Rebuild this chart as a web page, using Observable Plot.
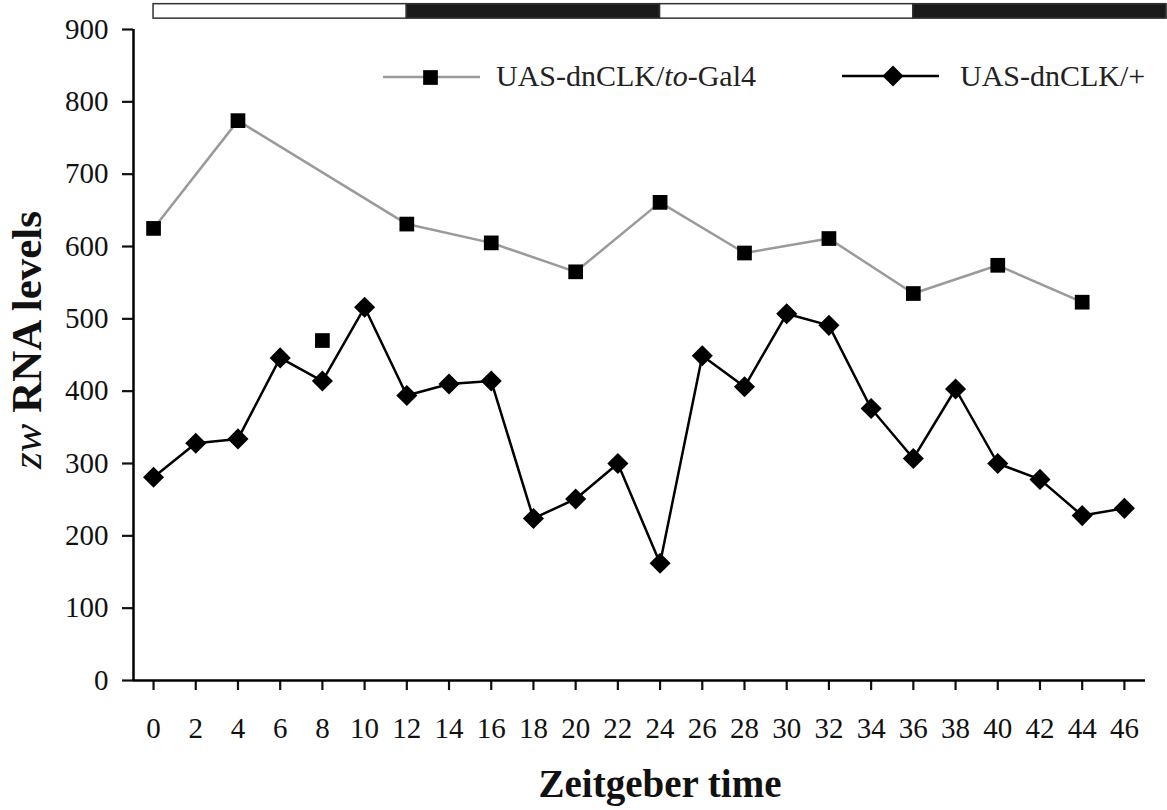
<!DOCTYPE html>
<html>
<head>
<meta charset="utf-8">
<script src="https://cdn.jsdelivr.net/npm/d3@7"></script>
<script src="https://cdn.jsdelivr.net/npm/@observablehq/plot@0.6"></script>
<style>
  html, body { margin: 0; padding: 0; background: #fff; }
</style>
</head>
<body>
<div id="chart"></div>
<script>
// ---- data ----
const toGal4Times  = [0, 4, 12, 16, 20, 24, 28, 32, 36, 40, 44];
const toGal4Values = [625, 774, 631, 605, 565, 661, 591, 611, 535, 574, 523];
const toGal4ExtraTime  = [8];
const toGal4ExtraValue = [470];

const plusTimes  = [0, 2, 4, 6, 8, 10, 12, 14, 16, 18, 20, 22, 24, 26, 28, 30, 32, 34, 36, 38, 40, 42, 44, 46];
const plusValues = [281, 328, 334, 446, 414, 516, 394, 410, 414, 224, 251, 300, 162, 449, 406, 507, 491, 376, 307, 403, 300, 278, 228, 238];

const phaseStart = [0, 12, 24, 36];
const phaseEnd   = [12, 24, 36, 48];
const phaseName  = ["light", "dark", "light", "dark"];

const xTicks = d3.range(0, 47, 2);
const yTicks = d3.range(0, 901, 100);

const seriesNames = ["UAS-dnCLK/to-Gal4", "UAS-dnCLK/+"];

// ---- tables ----
const toGal4 = toGal4Times.map((t, i) => ({time: t, value: toGal4Values[i]}));
const toGal4Extra = toGal4ExtraTime.map((t, i) => ({time: t, value: toGal4ExtraValue[i]}));
const plus = plusTimes.map((t, i) => ({time: t, value: plusValues[i]}));
const phases = phaseStart.map((s, i) => ({start: s, end: phaseEnd[i], phase: phaseName[i]}));

const serif = "'Liberation Serif', 'Times New Roman', Times, serif";
const GRAY = "#9a9a9a";

const plot = Plot.plot({
  width: 1167,
  height: 810,
  marginLeft: 133,
  marginRight: 22,
  marginTop: 29,
  marginBottom: 130,
  style: {fontFamily: serif, color: "#111", background: "#fff"},
  x: {domain: [-0.95, 47], axis: null},
  y: {domain: [0, 900], axis: null},
  marks: [
    // light/dark bar
    Plot.rect(phases, {
      x1: "start", x2: "end", y1: 915, y2: 935,
      fill: d => d.phase === "light" ? "#ffffff" : "#1a1a1a",
      stroke: "#333", strokeWidth: 1.5, clip: false
    }),
    Plot.axisY({ticks: yTicks, tickSize: 11, tickPadding: 14, fontSize: 29, strokeWidth: 2.2, label: null, tickFormat: d => String(d)}),
    Plot.axisX({ticks: xTicks, tickSize: 10, tickPadding: 27, fontSize: 29, strokeWidth: 2.2, label: null, tickFormat: d => String(d)}),
    Plot.ruleX([-0.95], {y1: 0, y2: 900, stroke: "#000", strokeWidth: 2.5}),
    Plot.ruleY([0], {stroke: "#000", strokeWidth: 2.5}),
    // series
    Plot.line(toGal4, {x: "time", y: "value", stroke: GRAY, strokeWidth: 2.5}),
    Plot.dot(toGal4, {x: "time", y: "value", symbol: "square", r: 8.3, fill: "#000"}),
    Plot.dot(toGal4Extra, {x: "time", y: "value", symbol: "square", r: 8.3, fill: "#000"}),
    Plot.line(plus, {x: "time", y: "value", stroke: "#000", strokeWidth: 2.5}),
    Plot.dot(plus, {x: "time", y: "value", symbol: d3.symbolDiamond2, r: 9.5, fill: "#000"})
  ]
});

document.getElementById("chart").appendChild(plot);

const s = d3.select(plot);

// y title
const yt = s.append("text")
  .attr("transform", "translate(41,340) rotate(-90)")
  .attr("text-anchor", "middle")
  .attr("font-family", serif)
  .attr("font-size", 43)
  .attr("font-weight", "bold")
  .attr("fill", "#111");
yt.append("tspan").attr("font-style", "italic").attr("font-weight", "normal").text("zw");
yt.append("tspan").text(" RNA levels");

// x title
s.append("text")
  .attr("x", 660).attr("y", 797)
  .attr("text-anchor", "middle")
  .attr("font-family", serif)
  .attr("font-size", 39)
  .attr("font-weight", "bold")
  .attr("fill", "#111")
  .text("Zeitgeber time");

// legend
const lg = s.append("g")
  .attr("font-family", serif)
  .attr("font-size", 30)
  .attr("text-anchor", "start")
  .attr("fill", "#222");
// series 1
lg.append("line").attr("x1", 383).attr("x2", 480).attr("y1", 77).attr("y2", 77)
  .attr("stroke", GRAY).attr("stroke-width", 2.5);
lg.append("path").attr("d", d3.symbol(d3.symbolSquare, Math.PI * 8.3 * 8.3)())
  .attr("transform", "translate(430.5,77.5)").attr("fill", "#000");
const t1 = lg.append("text").attr("x", 496).attr("y", 86).attr("text-anchor", "start");
t1.append("tspan").text("UAS-dnCLK/");
t1.append("tspan").attr("font-style", "italic").text("to");
t1.append("tspan").text("-Gal4");
// series 2
lg.append("line").attr("x1", 842).attr("x2", 939).attr("y1", 76).attr("y2", 76)
  .attr("stroke", "#000").attr("stroke-width", 2.5);
lg.append("path").attr("d", d3.symbol(d3.symbolDiamond2, Math.PI * 9.5 * 9.5)())
  .attr("transform", "translate(893,76)").attr("fill", "#000");
lg.append("text").attr("x", 960).attr("y", 86).attr("text-anchor", "start").text(seriesNames[1]);
</script>
</body>
</html>
